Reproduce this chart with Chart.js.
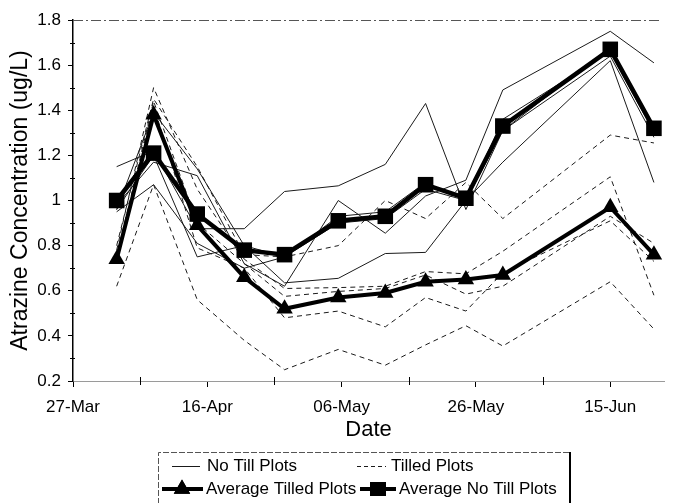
<!DOCTYPE html>
<html><head><meta charset="utf-8">
<script src="https://cdn.jsdelivr.net/npm/chart.js@4.4.1/dist/chart.umd.min.js"></script>
<style>html,body{margin:0;padding:0;background:#fff}canvas{display:block}</style>
</head><body>
<canvas id="c" width="675" height="503"></canvas>
<script>
// Sampling days, counted from 27 March
const sampleDays = [6.5, 12, 18.5, 25.5, 31.5, 39.5, 46.5, 52.5, 58.5, 64, 80, 86.5];
const dateTickDays = [0, 20, 40, 60, 80];
const dateTickLabels = ['27-Mar', '16-Apr', '06-May', '26-May', '15-Jun'];

// Atrazine concentration (ug/L), individual no-till plots
const noTillA = [1.15, 1.22, 0.875, 0.875, 1.04, 1.065, 1.16, 1.43, 0.96, 1.31, 1.68, 1.33];
const noTillB = [0.96, 1.39, 1.14, 0.80, 0.635, 0.655, 0.765, 0.77, 1.00, 1.17, 1.62, 1.08];
const noTillC = [0.98, 1.17, 1.11, 0.72, 0.62, 1.00, 0.855, 1.02, 1.09, 1.49, 1.75, 1.61];
const noTillD = [0.95, 1.07, 0.81, 0.70, 0.75, 0.93, 0.95, 1.08, 1.00, 1.36, 1.66, 1.30];
const noTillE = [0.96, 1.20, 0.75, 0.80, 0.75, 0.90, 0.92, 1.05, 1.00, 1.31, 1.64, 1.28];

// Individual tilled plots
const tilledA = [0.80, 1.45, 1.15, 0.76, 0.75, 0.80, 1.00, 0.92, 1.08, 0.92, 1.29, 1.255];
const tilledB = [0.78, 1.50, 1.05, 0.74, 0.61, 0.614, 0.62, 0.685, 0.675, 0.775, 1.105, 0.58];
const tilledC = [0.75, 1.44, 0.90, 0.72, 0.575, 0.597, 0.61, 0.67, 0.585, 0.62, 0.93, 0.81];
const tilledD = [0.75, 1.42, 0.79, 0.70, 0.48, 0.51, 0.44, 0.57, 0.51, 0.68, 0.91, 0.73];
const tilledE = [0.62, 1.07, 0.56, 0.38, 0.25, 0.34, 0.27, 0.36, 0.445, 0.355, 0.64, 0.43];

// Treatment means
const avgTilled = [0.74, 1.38, 0.89, 0.66, 0.52, 0.57, 0.59, 0.64, 0.65, 0.67, 0.97, 0.76];
const avgNoTill = [1.00, 1.21, 0.94, 0.78, 0.76, 0.91, 0.93, 1.07, 1.01, 1.33, 1.67, 1.32];

const legendLabels = ['No Till Plots', 'Tilled Plots', 'Average Tilled Plots', 'Average No Till Plots'];

const FONT = '"Liberation Sans", Arial, Helvetica, sans-serif';
const pts = vals => vals.map((v, i) => ({ x: sampleDays[i], y: v }));

const thinSolid = vals => ({
  data: pts(vals), borderColor: '#1a1a1a', borderWidth: 1, pointRadius: 0,
  fill: false, tension: 0, order: 2
});
const thinDashed = vals => ({
  data: pts(vals), borderColor: '#1a1a1a', borderWidth: 1, borderDash: [5, 4],
  pointRadius: 0, fill: false, tension: 0, order: 2
});

const datasets = [
  ...[noTillA, noTillB, noTillC, noTillD, noTillE].map(thinSolid),
  ...[tilledA, tilledB, tilledC, tilledD, tilledE].map(thinDashed),
  {
    data: pts(avgTilled), borderColor: '#000', backgroundColor: '#000', borderWidth: 4,
    pointStyle: 'triangle', pointRadius: 9.5, pointBorderWidth: 0, tension: 0, order: 1
  },
  {
    data: pts(avgNoTill), borderColor: '#000', backgroundColor: '#000', borderWidth: 4.5,
    pointStyle: 'rect', pointRadius: 11, pointBorderWidth: 0, tension: 0, order: 0
  }
];

// Frame lines, minor ticks and the boxed legend
const decorations = {
  id: 'decorations',
  afterDatasetsDraw(chart) {
    const { ctx, chartArea: a, scales: { x, y } } = chart;
    ctx.save();
    // top frame line
    ctx.strokeStyle = '#555';
    ctx.lineWidth = 1;
    ctx.setLineDash([10, 3, 2, 3]);
    ctx.beginPath();
    ctx.moveTo(a.left, Math.round(a.top) + 0.5);
    ctx.lineTo(a.right - 3, Math.round(a.top) + 0.5);
    ctx.stroke();
    ctx.setLineDash([]);
    // minor ticks
    ctx.strokeStyle = '#000';
    for (let v = 0.3; v < 1.8; v += 0.2) {
      const py = Math.round(y.getPixelForValue(v)) + 0.5;
      ctx.beginPath(); ctx.moveTo(a.left - 3, py); ctx.lineTo(a.left + 2, py); ctx.stroke();
    }
    for (let d = 10; d < 88; d += 20) {
      const px = Math.round(x.getPixelForValue(d)) + 0.5;
      ctx.beginPath(); ctx.moveTo(px, a.bottom - 4); ctx.lineTo(px, a.bottom + 4); ctx.stroke();
    }
    ctx.restore();
  },
  afterDraw(chart) {
    const ctx = chart.ctx;
    ctx.save();
    // legend frame
    ctx.strokeStyle = '#555';
    ctx.lineWidth = 1;
    ctx.setLineDash([6, 2]);
    ctx.beginPath();
    ctx.moveTo(569, 452.5); ctx.lineTo(158.5, 452.5); ctx.lineTo(158.5, 503);
    ctx.stroke();
    ctx.setLineDash([]);
    ctx.strokeStyle = '#000';
    ctx.lineWidth = 2;
    ctx.beginPath(); ctx.moveTo(570, 452); ctx.lineTo(570, 503); ctx.stroke();

    const r1 = 466, r2 = 489;
    ctx.lineWidth = 1;
    ctx.strokeStyle = '#1a1a1a';
    ctx.beginPath(); ctx.moveTo(172, r1 + 0.5); ctx.lineTo(200, r1 + 0.5); ctx.stroke();
    ctx.setLineDash([4, 3]);
    ctx.beginPath(); ctx.moveTo(357, r1 + 0.5); ctx.lineTo(386, r1 + 0.5); ctx.stroke();
    ctx.setLineDash([]);

    ctx.strokeStyle = '#000';
    ctx.fillStyle = '#000';
    ctx.lineWidth = 4;
    ctx.beginPath(); ctx.moveTo(162, r2); ctx.lineTo(203, r2); ctx.stroke();
    Chart.helpers.drawPoint(ctx, { pointStyle: 'triangle', radius: 9.5, borderWidth: 0 }, 182, r2);
    ctx.fill();
    ctx.beginPath(); ctx.moveTo(360, r2); ctx.lineTo(396, r2); ctx.stroke();
    ctx.fillRect(370, r2 - 7, 16, 14);

    ctx.fillStyle = '#000';
    ctx.font = '17px ' + FONT;
    ctx.textBaseline = 'middle';
    ctx.textAlign = 'left';
    ctx.fillText(legendLabels[0], 207, r1);
    ctx.fillText(legendLabels[1], 391, r1);
    ctx.fillText(legendLabels[2], 206, r2);
    ctx.fillText(legendLabels[3], 399, r2);
    ctx.restore();
  }
};

new Chart(document.getElementById('c'), {
  type: 'line',
  data: { datasets },
  plugins: [decorations],
  options: {
    responsive: false,
    animation: false,
    devicePixelRatio: 1,
    layout: { padding: { left: 0, right: 7, top: 20, bottom: 60 } },
    plugins: { legend: { display: false }, tooltip: { enabled: false } },
    scales: {
      x: {
        type: 'linear', min: 0, max: 88,
        afterFit(s) { s.height = 62; },
        ticks: {
          stepSize: 20, includeBounds: false, autoSkip: false, maxRotation: 0,
          color: '#000', padding: 10, font: { family: FONT, size: 17 },
          callback: v => { const i = dateTickDays.indexOf(v); return i >= 0 ? dateTickLabels[i] : ''; }
        },
        grid: { drawOnChartArea: false, drawTicks: true, tickLength: 6, color: '#000', tickColor: '#000' },
        border: { display: true, color: '#9a9a9a', dash: [3, 5], width: 1 },
        title: { display: true, text: 'Date', color: '#000', font: { family: FONT, size: 22 }, padding: { top: 0, bottom: 0 } }
      },
      y: {
        type: 'linear', min: 0.2, max: 1.8,
        afterFit(s) { s.width = 73; },
        ticks: {
          stepSize: 0.2, color: '#000', padding: 7, font: { family: FONT, size: 17 },
          callback: v => String(Number(v.toFixed(1)))
        },
        grid: { drawOnChartArea: false, drawTicks: true, tickLength: 5, color: '#000', tickColor: '#000' },
        border: { display: true, color: '#000', width: 1.5 },
        title: { display: true, text: 'Atrazine Concentration (ug/L)', color: '#000', font: { family: FONT, size: 23 }, padding: { top: 7, bottom: 0 } }
      }
    }
  }
});
</script>
</body></html>
